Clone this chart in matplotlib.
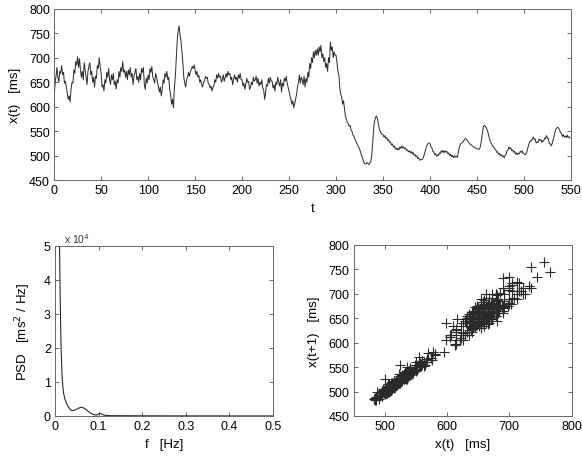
import numpy as np
import matplotlib
matplotlib.use('Agg')
import matplotlib.pyplot as plt
from matplotlib.ticker import FuncFormatter

plt.rcParams['font.family'] = ['Liberation Sans', 'DejaVu Sans']
plt.rcParams['font.size'] = 9

# RR-interval like series x(t) [ms], one value per t
x_series = [
    616, 648, 662, 680, 660, 650, 672, 668, 684, 665,
    670, 648, 652, 640, 628, 615, 622, 610, 635, 650,
    648, 675, 668, 692, 685, 702, 680, 698, 675, 660,
    672, 655, 690, 675, 660, 645, 672, 682, 690, 665,
    672, 650, 660, 640, 662, 658, 684, 678, 700, 682,
    668, 640, 645, 632, 655, 648, 670, 660, 678, 655,
    645, 665, 655, 668, 645, 652, 636, 655, 648, 672,
    660, 680, 672, 692, 670, 675, 660, 672, 655, 675,
    665, 680, 660, 668, 645, 662, 670, 678, 655, 662,
    650, 668, 655, 678, 670, 680, 645, 635, 658, 648,
    665, 655, 678, 670, 682, 660, 655, 648, 668, 660,
    650, 640, 630, 640, 622, 635, 655, 648, 668, 660,
    672, 655, 660, 635, 625, 605, 615, 598, 640, 662,
    700, 735, 755, 765, 745, 735, 712, 690, 660, 648,
    640, 655, 660, 670, 662, 672, 676, 682, 678, 685,
    675, 665, 672, 660, 664, 650, 655, 645, 640, 650,
    652, 662, 658, 660, 648, 645, 638, 642, 632, 640,
    642, 655, 650, 665, 658, 668, 660, 662, 650, 655,
    665, 652, 660, 668, 660, 672, 665, 668, 655, 660,
    645, 655, 665, 656, 660, 650, 665, 658, 668, 655,
    655, 642, 648, 636, 645, 658, 650, 652, 635, 640,
    650, 645, 660, 652, 655, 662, 648, 658, 642, 650,
    645, 655, 638, 635, 615, 628, 645, 642, 658, 648,
    660, 652, 652, 638, 645, 632, 650, 645, 660, 650,
    642, 655, 630, 648, 642, 658, 652, 662, 648, 640,
    632, 622, 615, 605, 612, 598, 606, 615, 625, 640,
    650, 665, 648, 660, 655, 645, 662, 640, 658, 650,
    670, 660, 688, 678, 700, 690, 712, 700, 715, 705,
    718, 705, 722, 712, 725, 700, 708, 692, 700, 680,
    688, 672, 700, 690, 732, 715, 722, 700, 712, 705,
    705, 690, 672, 665, 638, 625, 620, 605, 612, 595,
    580, 574, 568, 566, 560, 562, 552, 550, 542, 540,
    534, 530, 526, 522, 518, 514, 508, 502, 496, 490,
    485, 483, 484, 486, 484, 482, 485, 488, 500, 525,
    555, 570, 578, 581, 576, 565, 555, 550, 546, 544,
    543, 538, 541, 535, 537, 531, 533, 527, 528, 522,
    524, 518, 520, 514, 516, 512, 515, 512, 518, 515,
    520, 516, 518, 514, 516, 511, 512, 508, 510, 506,
    509, 504, 507, 501, 503, 498, 500, 494, 496, 491,
    492, 492, 493, 497, 503, 510, 517, 522, 525, 526,
    524, 518, 516, 509, 508, 502, 504, 499, 502, 500,
    506, 504, 510, 507, 511, 506, 510, 507, 509, 504,
    506, 500, 503, 498, 501, 496, 500, 497, 499, 497,
    505, 515, 522, 525, 526, 528, 531, 534, 535, 533,
    530, 528, 525, 523, 522, 520, 519, 517, 516, 515,
    514, 514, 513, 515, 522, 535, 550, 560, 562, 560,
    557, 552, 545, 537, 530, 526, 522, 519, 517, 514,
    512, 507, 508, 503, 505, 500, 502, 498, 500, 496,
    501, 503, 510, 512, 518, 514, 516, 510, 512, 507,
    509, 503, 506, 502, 505, 504, 509, 507, 510, 505,
    504, 502, 503, 507, 515, 522, 528, 531, 530, 534,
    538, 533, 534, 526, 528, 527, 534, 531, 533, 527,
    531, 530, 536, 535, 541, 536, 535, 525, 524, 520,
    525, 532, 540, 548, 554, 557, 558, 556, 552, 547,
    545, 539, 543, 538, 540, 537, 542, 537, 539, 536,
]

# power spectral density, values in ms^2/Hz
psd_f = [0.010, 0.012, 0.014, 0.016, 0.018, 0.020, 0.023, 0.027, 0.031, 0.035,
         0.038, 0.042, 0.046, 0.050, 0.054, 0.058, 0.061, 0.065, 0.069, 0.073,
         0.077, 0.081, 0.085, 0.089, 0.093, 0.097, 0.100, 0.103, 0.107, 0.111,
         0.116, 0.125, 0.150, 0.200, 0.300, 0.400, 0.500]
psd_val = [53000, 34000, 20000, 12500, 8500, 6500, 4900, 3500, 2600, 1900,
           1600, 1600, 1800, 2000, 2300, 2500, 2600, 2400, 2100, 1700,
           1300, 900, 600, 400, 300, 300, 600, 800, 600, 300,
           200, 100, 80, 50, 30, 20, 20]

t_ticks = list(range(0, 551, 50))
x_ticks = list(range(450, 801, 50))

x_series = np.array(x_series)
t = np.arange(len(x_series))

fig = plt.figure(figsize=(5.82, 4.60), dpi=100)

spine_col = '#666666'
line_col = '#2a2a2a'


def style_axes(ax):
    for s in ax.spines.values():
        s.set_color(spine_col)
        s.set_linewidth(0.7)
    ax.tick_params(direction='in', top=True, right=True, length=3,
                   width=0.7, color=spine_col, labelsize=9, pad=3)


# top: time series
ax1 = fig.add_axes([0.093, 0.606, 0.888, 0.373])
ax1.plot(t, x_series, color=line_col, lw=0.7)
ax1.set_xlim(0, 550)
ax1.set_ylim(450, 800)
ax1.set_xticks(t_ticks)
ax1.set_yticks(x_ticks)
ax1.set_xlabel('t', fontsize=9.5, labelpad=4)
ax1.set_ylabel('x(t)   [ms]', fontsize=9.5, labelpad=6)
style_axes(ax1)

# bottom left: PSD
ax2 = fig.add_axes([0.0945, 0.0935, 0.3746, 0.3696])
ax2.plot(psd_f, psd_val, color=line_col, lw=0.8)
ax2.set_xlim(0, 0.5)
ax2.set_ylim(0, 50000)
ax2.set_xticks([0, 0.1, 0.2, 0.3, 0.4, 0.5])
ax2.set_xticklabels(['0', '0.1', '0.2', '0.3', '0.4', '0.5'])
ax2.set_yticks([0, 10000, 20000, 30000, 40000, 50000])
ax2.yaxis.set_major_formatter(FuncFormatter(lambda v, p: '%g' % (v / 1e4)))
ax2.text(0.04, 1.005, 'x 10$^4$', transform=ax2.transAxes, fontsize=7.5,
         va='bottom', ha='left', color='#333333')
ax2.set_xlabel('f   [Hz]', fontsize=9.5, labelpad=4)
ax2.set_ylabel('PSD   [ms$^2$ / Hz]', fontsize=9.5, labelpad=8)
style_axes(ax2)

# bottom right: return map x(t+1) vs x(t)
ax3 = fig.add_axes([0.608, 0.0935, 0.374, 0.372])
ax3.plot(x_series[:-1], x_series[1:], linestyle='none', marker='+',
         markersize=7, markeredgewidth=0.8, color=line_col)
ax3.set_xlim(450, 800)
ax3.set_ylim(450, 800)
ax3.set_xticks([500, 600, 700, 800])
ax3.set_yticks(x_ticks)
ax3.set_xlabel('x(t)   [ms]', fontsize=9.5, labelpad=4)
ax3.set_ylabel('x(t+1)   [ms]', fontsize=9.5, labelpad=6)
style_axes(ax3)

fig.savefig('out.png', dpi=100)
